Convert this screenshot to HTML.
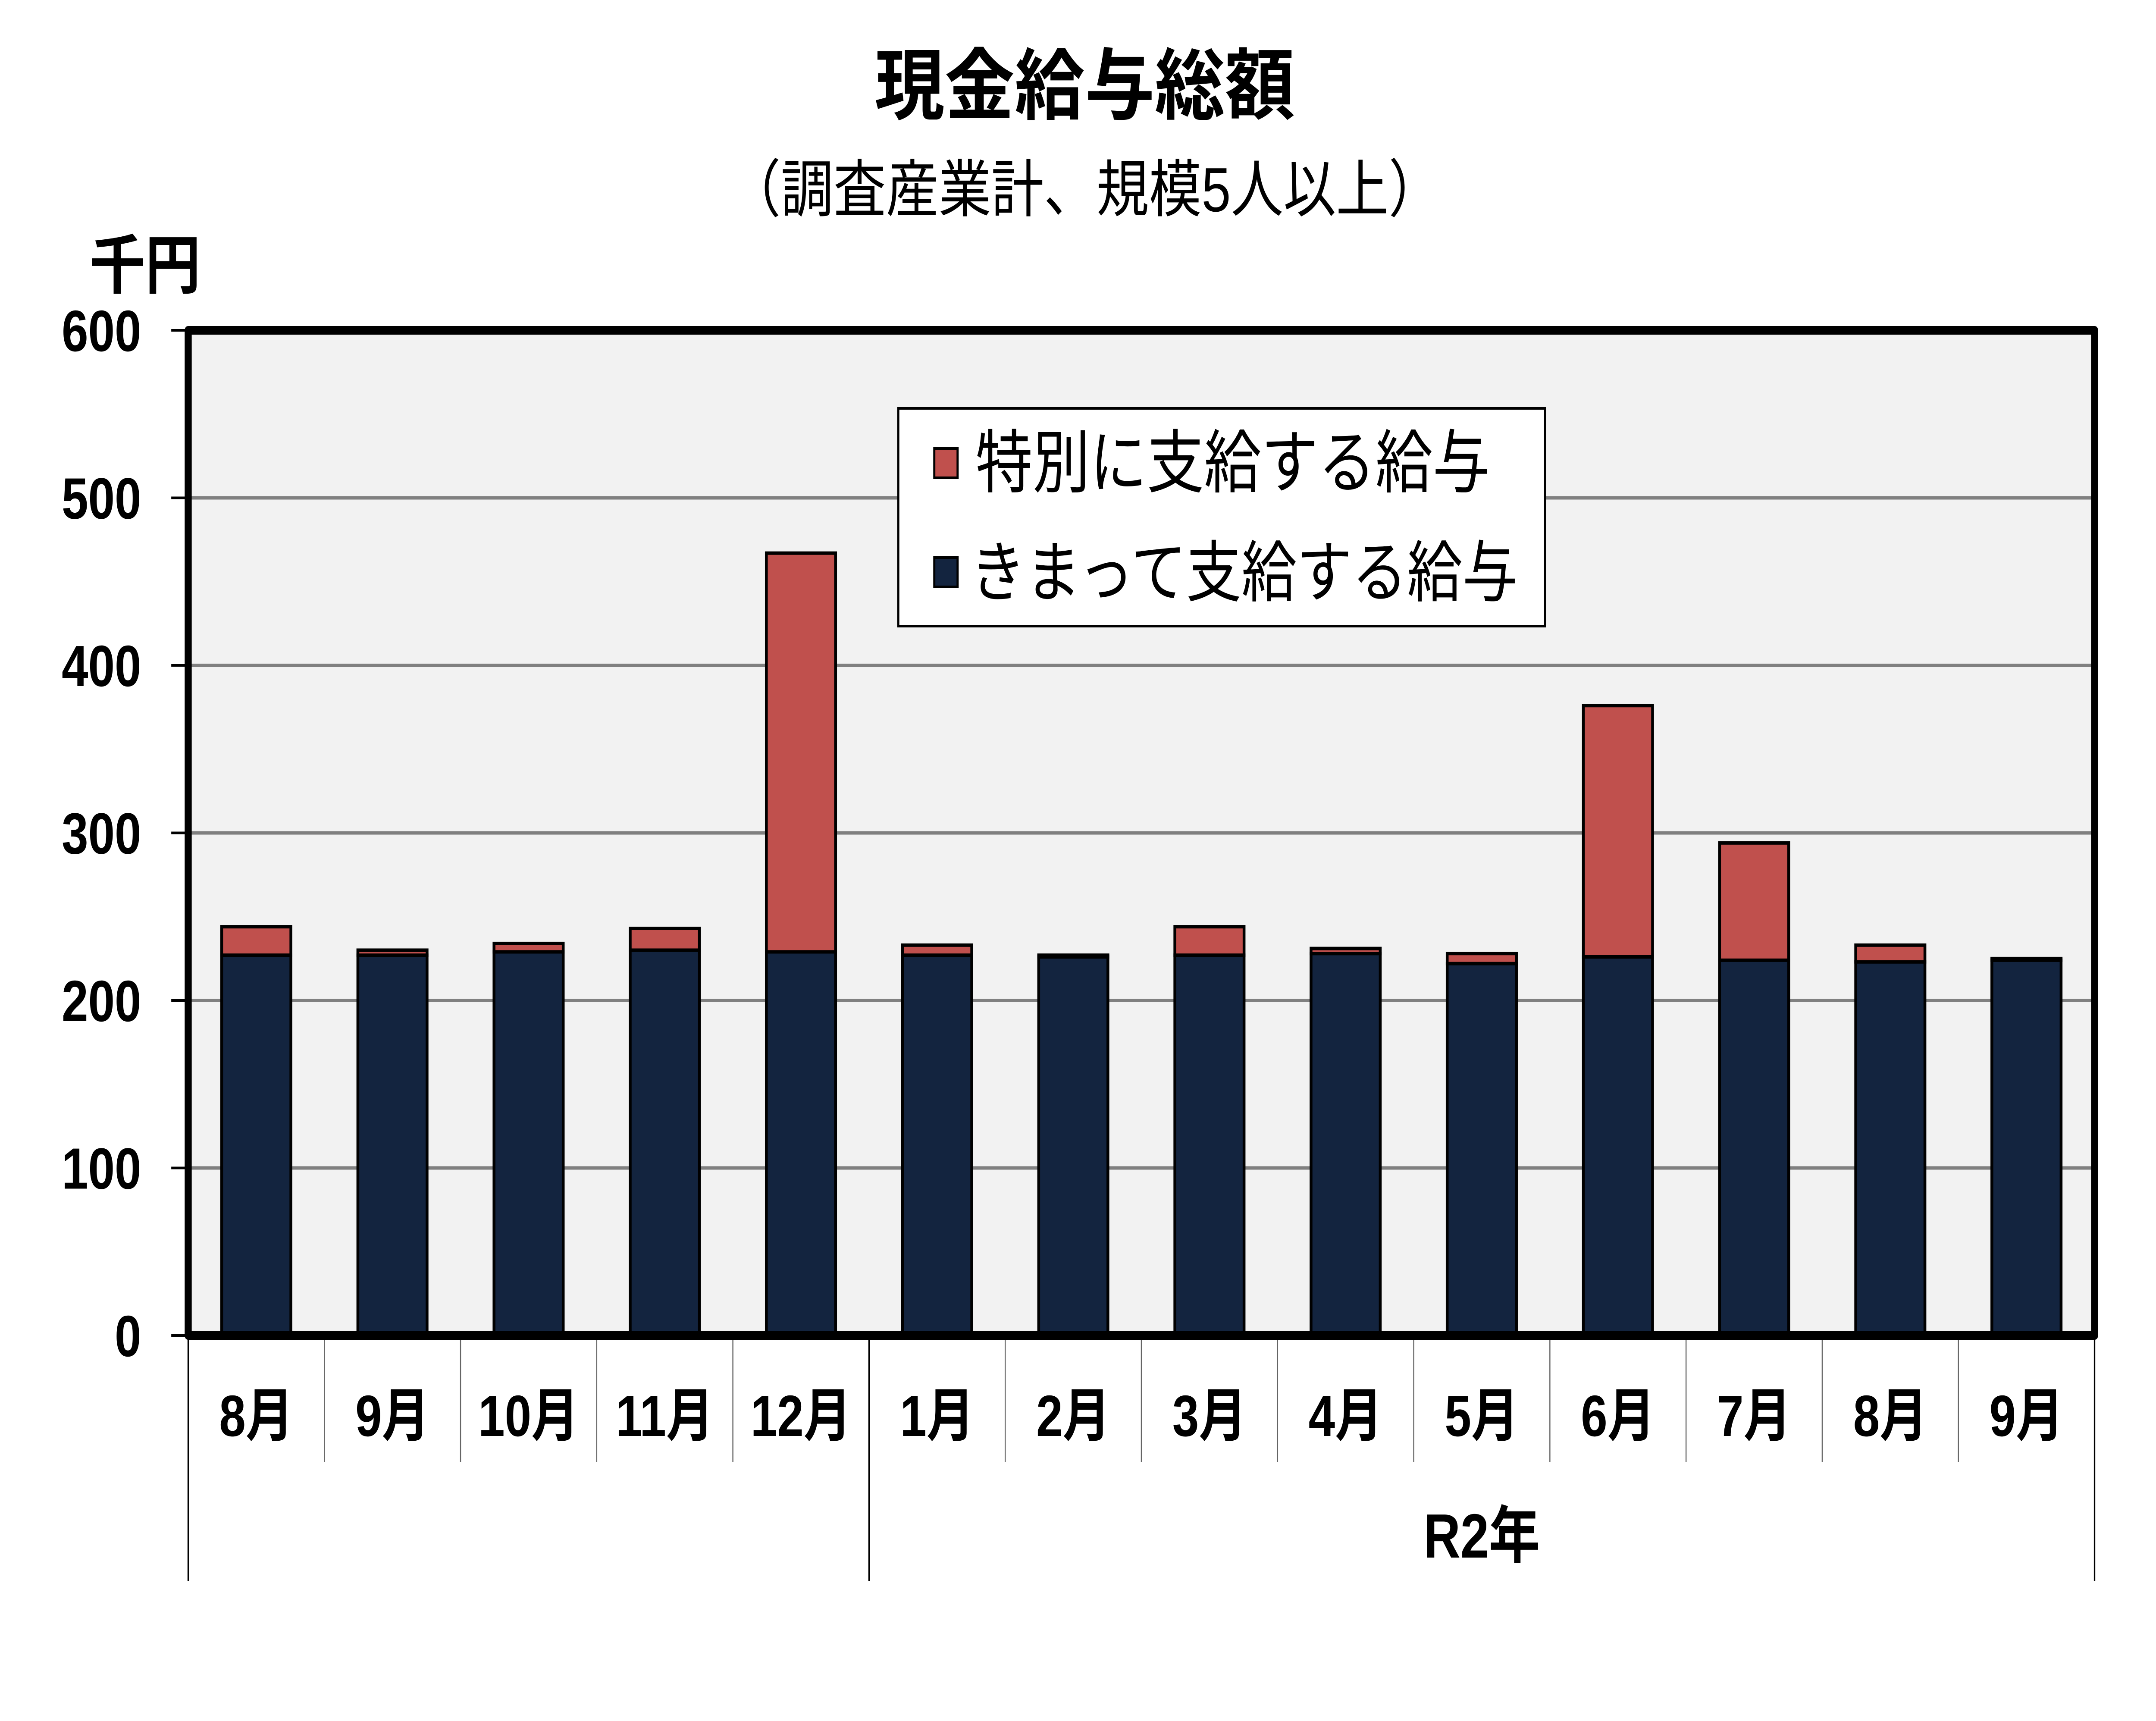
<!DOCTYPE html>
<html><head><meta charset="utf-8"><style>
html,body{margin:0;padding:0;background:#fff;overflow:hidden;width:100%;height:100%;}
svg{display:block;width:100vw;height:100vh;}
text{font-family:"Liberation Sans","Noto Sans CJK JP",sans-serif;}
</style></head>
<body>
<svg id="chart" viewBox="0 0 6106 3991" preserveAspectRatio="none" xmlns="http://www.w3.org/2000/svg">
<rect x="0" y="0" width="6106" height="3991" fill="#fff"/>
<text x="3072" y="262" font-size="180" font-weight="bold" text-anchor="middle" textLength="1190" lengthAdjust="spacingAndGlyphs">現金給与総額</text>
<text x="3072" y="490" font-size="145" text-anchor="middle" textLength="2019" lengthAdjust="spacingAndGlyphs">（調査産業計、規模5人以上）</text>
<text x="254" y="668" font-size="150" font-weight="bold" textLength="314" lengthAdjust="spacingAndGlyphs">千円</text>
<rect x="533" y="766" width="5399" height="2331" fill="#f2f2f2"/>
<g id="grid"></g>
<g id="bars"></g>
<rect x="533" y="766" width="5399" height="2331" fill="none" stroke="#000" stroke-width="20" stroke-linejoin="round"/>
<g id="axis"></g>
<g>
  <rect x="2544" y="947" width="1832" height="505" fill="#fff" stroke="#000" stroke-width="6"/>
  <rect x="2646" y="1040" width="66" height="68" fill="#c0504d" stroke="#000" stroke-width="6"/>
  <text x="2763" y="1129" font-size="160" textLength="1456" lengthAdjust="spacingAndGlyphs">特別に支給する給与</text>
  <rect x="2646" y="1293" width="66" height="68" fill="#13243f" stroke="#000" stroke-width="6"/>
  <text x="2748" y="1382" font-size="155" textLength="1550" lengthAdjust="spacingAndGlyphs">きまって支給する給与</text>
</g>
</svg>
<script>
const categories = ["8月","9月","10月","11月","12月","1月","2月","3月","4月","5月","6月","7月","8月","9月"];
const regularPay = [227,227,229,230,229,227,226,227,228,222,226,224,223,224];
const totalPay = [244,230,234,243,467,233,227,244,231,228,376,294,233,225];
const yTicks = [0,100,200,300,400,500,600];
const groupLabel = "R2年";

const NS = "http://www.w3.org/2000/svg";
const L = 533, R = 5932, T = 766, B = 3097, YMAX = 600;
const catW = (R - L) / categories.length;
const barW = 196;
function yScale(v){ return B - (v / YMAX) * (B - T); }
function xCenter(i){ return L + catW * (i + 0.5); }
function mk(tag, attrs, parent){
  const el = document.createElementNS(NS, tag);
  for (const k in attrs) el.setAttribute(k, attrs[k]);
  parent.appendChild(el);
  return el;
}
const grid = document.getElementById("grid");
const bars = document.getElementById("bars");
const axis = document.getElementById("axis");

yTicks.forEach(function(t){
  const y = yScale(t);
  if (t > 0 && t < YMAX) {
    const g = mk("line", {x1:L, x2:R, y1:y, y2:y, stroke:"#808080", "stroke-width":8}, grid);
    
    
  }
  const tk = mk("line", {x1:485, x2:L, y1:y, y2:y, stroke:"#000", "stroke-width":6}, axis);
  
  
  const lb = mk("text", {x:400, y:y + 48, "font-size":135, "font-weight":"bold", "text-anchor":"end"}, axis);
  lb.textContent = String(t);
  
  
});

categories.forEach(function(c, i){
  const cx = xCenter(i);
  const x = cx - barW / 2;
  const yBase = yScale(regularPay[i]);
  const yTop = yScale(totalPay[i]);
  const b1 = mk("rect", {x:x, y:yBase, width:barW, height:B - yBase, fill:"#13243f", stroke:"#000", "stroke-width":8}, bars);
  
  
  const b2 = mk("rect", {x:x, y:yTop, width:barW, height:Math.max(0, yBase - yTop), fill:"#c0504d", stroke:"#000", "stroke-width":8}, bars);
  
  
  const lb = mk("text", {x:cx, y:3330, "font-size":135, "font-weight":"bold", "text-anchor":"middle"}, axis);
  lb.textContent = c;
  
  
});

for (let i = 0; i <= categories.length; i++) {
  const x = L + catW * i;
  const long = (i === 0 || i === 5 || i === categories.length);
  const sep = mk("line", {x1:x, x2:x, y1:B, y2:long ? 3667 : 3390, stroke:"#000", "stroke-width": long ? 4 : 3, opacity: long ? 1 : 0.6}, axis);
  
  
}
const gl = mk("text", {x:(L + catW * 5 + R) / 2, y:3612, "font-size":145, "font-weight":"bold", "text-anchor":"middle"}, axis);
gl.textContent = groupLabel;


</script>
</body></html>
